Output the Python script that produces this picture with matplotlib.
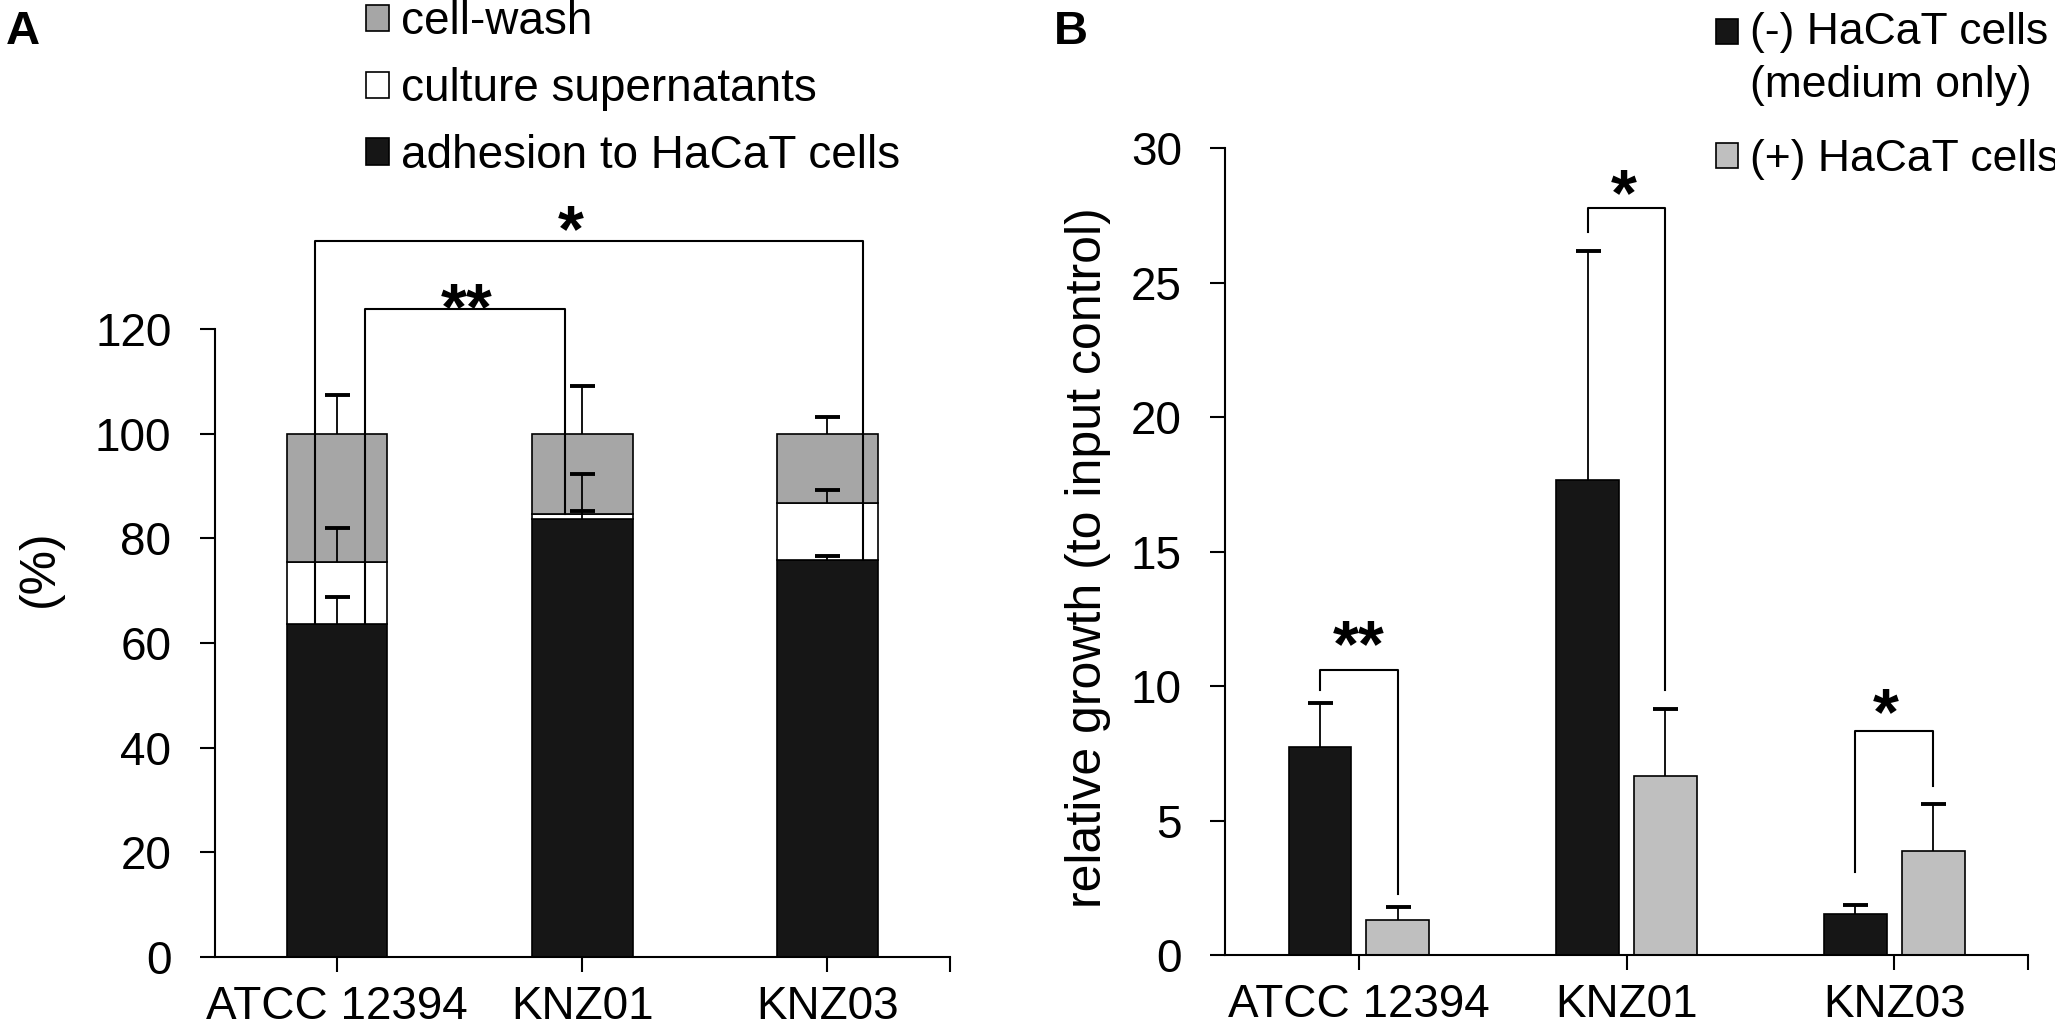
import numpy as np
import matplotlib.pyplot as plt
from matplotlib.patches import Patch, Rectangle
from matplotlib.legend_handler import HandlerPatch

plt.rcParams["font.family"] = ["Liberation Sans", "DejaVu Sans"]

# ── Data ───────────────────────────────────────────────────────────────────────
strains = ["ATCC 12394", "KNZ01", "KNZ03"]

# panel A, stacked (%)
adhesion = [63.7, 83.6, 75.8]
adhesion_err = [5.1, 1.7, 0.8]
supernatant = [11.7, 1.0, 10.9]
supernatant_err = [6.5, 7.7, 2.5]
cellwash = [24.6, 15.4, 13.3]
cellwash_err = [7.4, 9.2, 3.1]

# panel B, relative growth
no_cells = [7.73, 17.66, 1.52]
no_cells_err = [1.62, 8.51, 0.34]
with_cells = [1.32, 6.67, 3.85]
with_cells_err = [0.45, 2.46, 1.77]

# ── Colours ────────────────────────────────────────────────────────────────────
COLORS = {
    "black": "#161616",
    "gray_a": "#a6a6a6",
    "gray_b": "#bfbfbf",
    "white": "#ffffff",
}

FS = 33
LW = 1.5


def _style_ax(ax, ymax, ystep):
    ax.spines[["top", "right"]].set_visible(False)
    ax.spines[["left", "bottom"]].set_linewidth(LW)
    ax.set_xlim(-0.5, 2.5)
    ax.set_ylim(0, ymax)
    ax.set_yticks(np.arange(0, ymax + 0.1, ystep))
    ax.set_xticks([0, 1, 2, 2.5], labels=strains + [""])
    ax.tick_params(axis="y", direction="out", length=11, width=LW, pad=20, labelsize=FS)
    ax.tick_params(axis="x", direction="out", length=11, width=LW, pad=9, labelsize=FS)


def _bracket(ax, x1, x2, ytop, y1, y2, txt, tx, ty):
    ax.plot([x1, x1, x2, x2], [y1, ytop, ytop, y2], color="black", lw=LW,
            clip_on=False, zorder=5)
    ax.text(tx, ty, txt, ha="center", va="baseline", fontsize=48,
            fontweight="bold", clip_on=False)


def _errors(ax, x, tops, err):
    # only the upper half, with a cap on top
    eb = ax.errorbar(x, tops, yerr=[np.zeros(len(err)), err], fmt="none",
                     ecolor="black", elinewidth=1.3, capsize=9, capthick=2.8, zorder=4)
    eb[1][0].set_visible(False)


def _top_square(legend, orig_handle, xdescent, ydescent, width, height, fontsize):
    # square lined up with the first line of a two-line label
    return Rectangle((-xdescent, -ydescent + 0.62 * fontsize), width, height)


fig = plt.figure(figsize=(20.55, 10.30), dpi=100)
fig.patch.set_facecolor("white")

# ── Panel A ────────────────────────────────────────────────────────────────────
axA = fig.add_axes([0.1044, 0.0709, 0.3579, 0.6097])
x = np.arange(len(strains))
w = 0.41
adh = np.array(adhesion)
sup = np.array(supernatant)
wash = np.array(cellwash)

axA.bar(x, adh, w, color=COLORS["black"], edgecolor="black", lw=1.2)
axA.bar(x, sup, w, bottom=adh, color=COLORS["white"], edgecolor="black", lw=1.2)
axA.bar(x, wash, w, bottom=adh + sup, color=COLORS["gray_a"], edgecolor="black", lw=1.2)
_errors(axA, x, adh, adhesion_err)
_errors(axA, x, adh + sup, supernatant_err)
_errors(axA, x, adh + sup + wash, cellwash_err)

_style_ax(axA, 120, 20)
axA.set_ylabel("(%)", fontsize=36)
axA.yaxis.label.set_va("center")
axA.yaxis.set_label_coords(-0.237, 0.619)

_bracket(axA, 0.113, 0.931, 123.9, adh[0], adh[1] + sup[1], "**", 0.53, 120.0)
_bracket(axA, -0.091, 2.145, 136.8, adh[0], adh[2], "*", 0.953, 134.9)

handlesA = [Patch(facecolor=COLORS["gray_a"], edgecolor="black", lw=1.2),
            Patch(facecolor=COLORS["white"], edgecolor="black", lw=1.2),
            Patch(facecolor=COLORS["black"], edgecolor="black", lw=1.2)]
axA.legend(handlesA, ["cell-wash", "culture supernatants", "adhesion to HaCaT cells"],
           loc="upper left", bbox_to_anchor=(0.178, 1.0), bbox_transform=fig.transFigure,
           frameon=False, fontsize=FS, handlelength=0.5, handleheight=0.5,
           handletextpad=0.26, labelspacing=0.5, borderpad=0, borderaxespad=0)

# ── Panel B ────────────────────────────────────────────────────────────────────
axB = fig.add_axes([0.5961, 0.0728, 0.3908, 0.7835])
wb = 0.235
off = 0.145
axB.bar(x - off, no_cells, wb, color=COLORS["black"], edgecolor="black", lw=1.2)
axB.bar(x + off, with_cells, wb, color=COLORS["gray_b"], edgecolor="black", lw=1.2)
_errors(axB, x - off, no_cells, no_cells_err)
_errors(axB, x + off, with_cells, with_cells_err)

_style_ax(axB, 30, 5)
axB.set_ylabel("relative growth (to input control)", fontsize=36)
axB.yaxis.label.set_va("center")
axB.yaxis.set_label_coords(-0.1706, 0.492)

_bracket(axB, -off, off, 10.6, 9.86, 2.26, "**", 0.0, 10.74)
_bracket(axB, 1 - off, 1 + off, 27.77, 26.86, 9.86, "*", 0.99, 27.51)
_bracket(axB, 2 - off, 2 + off, 8.32, 3.07, 6.30, "*", 1.97, 8.21)

h_minus = Patch(facecolor=COLORS["black"], edgecolor="black", lw=1.2)
h_plus = Patch(facecolor=COLORS["gray_b"], edgecolor="black", lw=1.2)
legB = axB.legend([h_minus, h_plus], ["(-) HaCaT cells\n(medium only)", "(+) HaCaT cells"],
                  loc="upper left", bbox_to_anchor=(0.835, 0.988),
                  bbox_transform=fig.transFigure,
                  handler_map={h_minus: HandlerPatch(patch_func=_top_square)},
                  frameon=False, fontsize=32, handlelength=0.5, handleheight=0.5,
                  handletextpad=0.26, labelspacing=0.76, borderpad=0, borderaxespad=0)
legB.get_texts()[0].set_linespacing(1.35)

# ── Panel letters ──────────────────────────────────────────────────────────────
fig.text(0.003, 0.99, "A", fontsize=34, fontweight="bold", va="top", ha="left")
fig.text(0.513, 0.99, "B", fontsize=34, fontweight="bold", va="top", ha="left")

fig.savefig("out.png", dpi=100, facecolor="white")
